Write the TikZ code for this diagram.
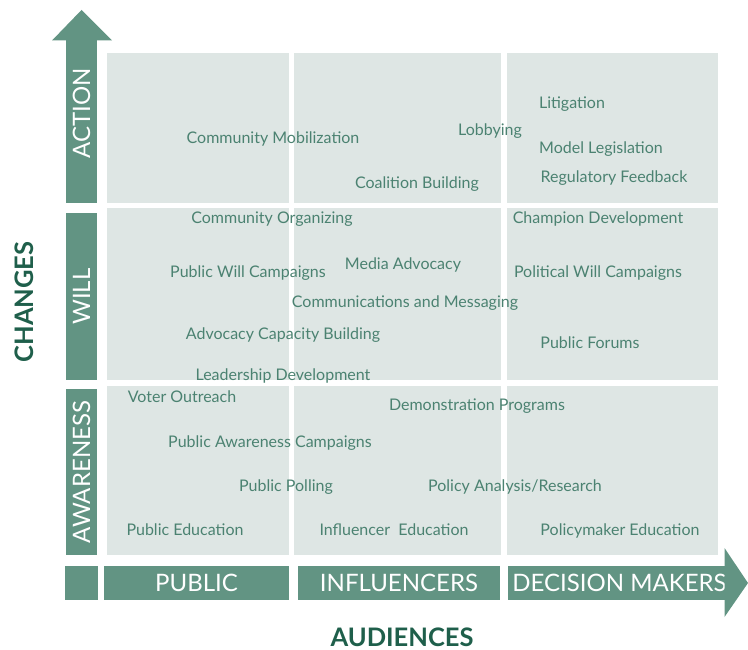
\documentclass[tikz,border=0pt]{standalone}
\usepackage{fontspec}
\setmainfont{Lato}

\definecolor{bandgreen}{HTML}{629483}
\definecolor{cellgrey}{HTML}{DEE6E4}
\definecolor{itemgreen}{HTML}{4B8271}
\definecolor{headgreen}{HTML}{1F5F4B}

\begin{document}
\begin{tikzpicture}[
            x = 1pt, y = -1pt,
            cell/.style = {fill = cellgrey, inner sep = 0pt, anchor = north west},
            band/.style = {fill = bandgreen, text = white, inner sep = 0pt,
                           font = \fontsize{24}{24}\selectfont},
            item/.style = {text = itemgreen, inner sep = 0pt, text height = 11pt, text depth = 0pt,
                           font = \fontsize{16}{18}\selectfont},
            axis/.style = {text = headgreen, inner sep = 0pt, text height = 18pt, text depth = 0pt,
                           font = \fontsize{25.5}{26}\selectfont\bfseries}
            ]
            \useasboundingbox (0,0) rectangle (748,650);

            % grid of cells: rows action / will / awareness, columns public / influencers / decision makers
            \node[cell, minimum width = 182, minimum height = 150] (act-pub) at (107,53) {};
            \node[cell, minimum width = 207, minimum height = 150] (act-inf) at (294,53) {};
            \node[cell, minimum width = 211, minimum height = 150] (act-dec) at (507,53) {};
            \node[cell, minimum width = 182, minimum height = 172] (will-pub) at (107,208) {};
            \node[cell, minimum width = 207, minimum height = 172] (will-inf) at (294,208) {};
            \node[cell, minimum width = 211, minimum height = 172] (will-dec) at (507,208) {};
            \node[cell, minimum width = 182, minimum height = 169] (aw-pub) at (107,386) {};
            \node[cell, minimum width = 207, minimum height = 169] (aw-inf) at (294,386) {};
            \node[cell, minimum width = 211, minimum height = 169] (aw-dec) at (507,386) {};

            % changes axis
            \node[band, rotate = 90, minimum width = 163, minimum height = 31] (action) at (81.5,121.5) {\hspace*{17pt}ACTION};
            \fill[bandgreen] (52,40.5) -- (81.5,10) -- (112,40.5) -- cycle;
            \node[band, rotate = 90, minimum width = 167, minimum height = 31] (will) at (81.5,296.5) {WILL};
            \node[band, rotate = 90, minimum width = 166, minimum height = 31] (awareness) at (81.5,472) {AWARENESS};
            \node[band, minimum width = 33, minimum height = 34] (corner) at (81.5,583) {};

            % audiences axis
            \node[band, minimum width = 185, minimum height = 34] (public) at (196.5,583) {PUBLIC};
            \node[band, minimum width = 202, minimum height = 34] (influencers) at (399,583) {INFLUENCERS};
            \node[band, minimum width = 215, minimum height = 34] (decision) at (617.5,583) {\hspace*{4pt}DECISION MAKERS};
            \fill[bandgreen] (724.5,548) -- (748,583) -- (724.5,617) -- cycle;

            \node[axis, rotate = 90] (changes) at (25,302) {CHANGES};
            \node[axis] (audiences) at (402,637) {AUDIENCES};

            % strategies
            \node[item] (mobilization) at (273,138) {Community Mobilization};
            \node[item] (lobbying) at (490,130) {Lobbying};
            \node[item] (litigation) at (572,103) {Litigation};
            \node[item] (legislation) at (601,148) {Model Legislation};
            \node[item] (regulatory) at (614,177) {Regulatory Feedback};
            \node[item] (coalition) at (417,183) {Coalition Building};
            \node[item] (organizing) at (272,218) {Community Organizing};
            \node[item] (champion) at (598,218) {Champion Development};
            \node[item] (publicwill) at (248,272) {Public Will Campaigns};
            \node[item] (media) at (403,264) {Media Advocacy};
            \node[item] (politicalwill) at (598,272) {Political Will Campaigns};
            \node[item] (messaging) at (405,302) {Communications and Messaging};
            \node[item] (capacity) at (283,334) {Advocacy Capacity Building};
            \node[item] (forums) at (590,343) {Public Forums};
            \node[item] (leadership) at (283,375) {Leadership Development};
            \node[item] (outreach) at (182,397) {Voter Outreach};
            \node[item] (demonstration) at (477,405) {Demonstration Programs};
            \node[item] (awarenesscamp) at (270,442) {Public Awareness Campaigns};
            \node[item] (polling) at (286,486) {Public Polling};
            \node[item] (analysis) at (515,486) {Policy Analysis/Research};
            \node[item] (pubedu) at (185,530) {Public Education};
            \node[item] (infedu) at (394,530) {Influencer\ \ Education};
            \node[item] (poledu) at (620,530) {Policymaker Education};
\end{tikzpicture}
\end{document}
